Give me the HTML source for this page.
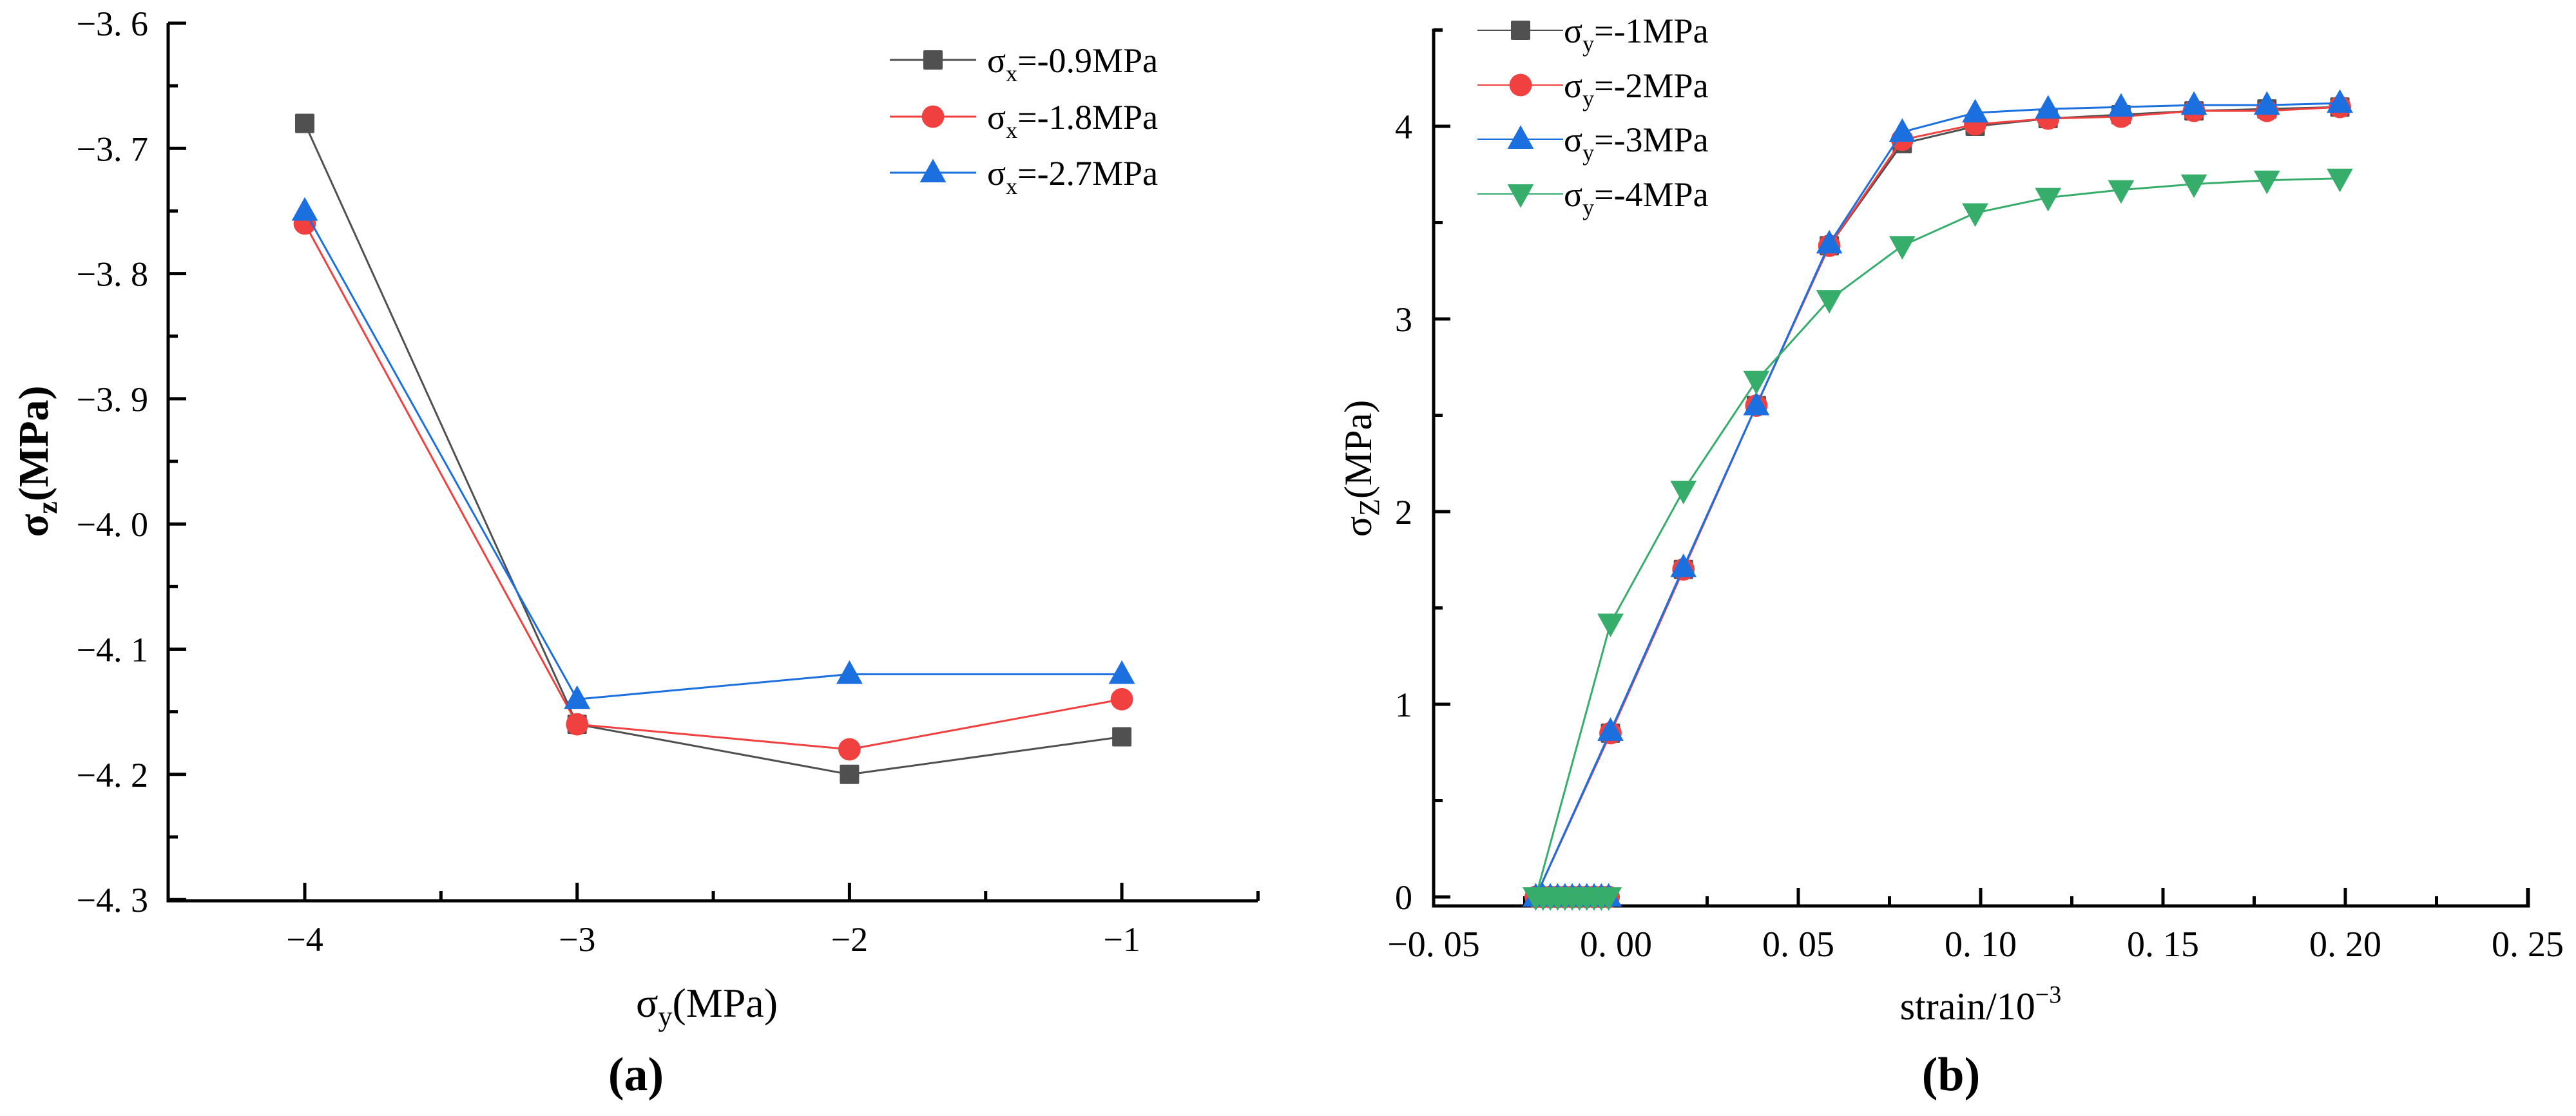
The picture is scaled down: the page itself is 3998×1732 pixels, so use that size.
<!DOCTYPE html>
<html><head><meta charset="utf-8"><title>Stress charts</title>
<style>
html,body{margin:0;padding:0;background:#fff;}
svg{display:block;font-family:"Liberation Serif","DejaVu Serif",serif;}
</style></head>
<body>
<svg id="fig" width="3998" height="1732" viewBox="0 0 3998 1732" xmlns="http://www.w3.org/2000/svg"></svg>
<script>
// ---------- Panel (a) data ----------
const aCategories = [-4, -3, -2, -1];
const aSeries1 = [-3.68, -4.16, -4.20, -4.17];   // σx=-0.9MPa
const aSeries2 = [-3.76, -4.16, -4.18, -4.14];   // σx=-1.8MPa
const aSeries3 = [-3.75, -4.14, -4.12, -4.12];   // σx=-2.7MPa
const aSeriesNames = ["-0.9MPa", "-1.8MPa", "-2.7MPa"];
const aYTicks = [-3.6, -3.7, -3.8, -3.9, -4.0, -4.1, -4.2, -4.3];
const aYTickLabels = ["−3. 6", "−3. 7", "−3. 8", "−3. 9", "−4. 0", "−4. 1", "−4. 2", "−4. 3"];
const aXTickLabels = ["−4", "−3", "−2", "−1"];

// ---------- Panel (b) data ----------
const bZeroX = [-0.002, -0.004, -0.006, -0.008, -0.010, -0.012, -0.014, -0.016, -0.018, -0.020, -0.022];
const bStrain = [-0.0015, 0.0185, 0.0385, 0.0585, 0.0785, 0.0985, 0.1185, 0.1385, 0.1585, 0.1785, 0.1985];
const bSeries1 = [0.85, 1.70, 2.55, 3.38, 3.91, 4.00, 4.04, 4.06, 4.08, 4.09, 4.10]; // σy=-1
const bSeries2 = [0.85, 1.70, 2.55, 3.38, 3.93, 4.01, 4.04, 4.05, 4.08, 4.08, 4.10]; // σy=-2
const bSeries3 = [0.86, 1.71, 2.55, 3.39, 3.97, 4.07, 4.09, 4.10, 4.11, 4.11, 4.12]; // σy=-3
const bSeries4 = [1.42, 2.11, 2.68, 3.10, 3.38, 3.55, 3.63, 3.67, 3.70, 3.72, 3.73]; // σy=-4
const bSeriesNames = ["-1MPa", "-2MPa", "-3MPa", "-4MPa"];
const bXTicks = [-0.05, 0, 0.05, 0.10, 0.15, 0.20, 0.25];
const bXTickLabels = ["−0. 05", "0. 00", "0. 05", "0. 10", "0. 15", "0. 20", "0. 25"];
const bYTicks = [0, 1, 2, 3, 4];
const bYTickLabels = ["0", "1", "2", "3", "4"];

const NS = "http://www.w3.org/2000/svg";
const svg = document.getElementById("fig");
function mk(tag, attrs, parent) {
  const e = document.createElementNS(NS, tag);
  for (const k in attrs) e.setAttribute(k, attrs[k]);
  (parent || svg).appendChild(e);
  return e;
}
const COLORS = ["#505050", "#f04040", "#1b6fdf", "#37ad6b"];

function marker(g, type, cx, cy, color, s) {
  let e;
  if (type === 0) e = mk("rect", {x: cx - s/2, y: cy - s/2, width: s, height: s, rx: 2, fill: color}, g);
  else if (type === 1) e = mk("circle", {cx: cx, cy: cy, r: s*0.58, fill: color}, g);
  else if (type === 2) e = mk("polygon", {points: `${cx},${cy - s*0.72} ${cx - s*0.68},${cy + s*0.5} ${cx + s*0.68},${cy + s*0.5}`, fill: color}, g);
  else e = mk("polygon", {points: `${cx},${cy + s*0.72} ${cx - s*0.68},${cy - s*0.5} ${cx + s*0.68},${cy - s*0.5}`, fill: color}, g);
  
  
  return e;
}

// ================= Panel (a) =================
const aL = 261, aR = 1952, aT = 36, aB = 1398;
const ax = v => 473 + (v - (-4)) * 422.7;
const ay = v => 36 + (-3.6 - v) / 0.1 * 194.3;

const gA = mk("g", {});



const aAxes = mk("path", {d: `M${aL},${aT} V${aB} H${aR}`, stroke: "#000", "stroke-width": 5, fill: "none"}, gA);


aYTicks.forEach((v, i) => {
  const y = ay(v);
  const t = mk("line", {x1: aL, x2: aL + 28, y1: y, y2: y, stroke: "#000", "stroke-width": 5}, gA);
  
  
  const lb = mk("text", {x: 230, y: y + 19, "text-anchor": "end", "font-size": 54}, gA);
  lb.textContent = aYTickLabels[i];
  
  
  if (i < aYTicks.length - 1) {
    const ym = ay(v - 0.05);
    const m = mk("line", {x1: aL, x2: aL + 15, y1: ym, y2: ym, stroke: "#000", "stroke-width": 5}, gA);
    
    
  }
});
aCategories.forEach((v, i) => {
  const x = ax(v);
  const t = mk("line", {x1: x, x2: x, y1: aB, y2: aB - 28, stroke: "#000", "stroke-width": 5}, gA);
  
  
  const lb = mk("text", {x: x, y: 1476, "text-anchor": "middle", "font-size": 54}, gA);
  lb.textContent = aXTickLabels[i];
  
  
});
[-3.5, -2.5, -1.5, -0.5].forEach(v => {
  const x = ax(v);
  const m = mk("line", {x1: x, x2: x, y1: aB, y2: aB - 15, stroke: "#000", "stroke-width": 5}, gA);
  
  
});
const aYT = mk("text", {x: 0, y: 0, transform: "translate(74,716) rotate(-90)", "text-anchor": "middle", "font-size": 66, "font-weight": "bold"}, gA);
aYT.innerHTML = 'σ<tspan font-size="44" dy="14">z</tspan><tspan dy="-14">(MPa)</tspan>';


const aXT = mk("text", {x: 1097, y: 1578, "text-anchor": "middle", "font-size": 64}, gA);
aXT.innerHTML = 'σ<tspan font-size="44" dy="14">y</tspan><tspan dy="-14">(MPa)</tspan>';


const aCap = mk("text", {x: 987, y: 1692, "text-anchor": "middle", "font-size": 74, "font-weight": "bold"}, gA);
aCap.textContent = "(a)";



[aSeries1, aSeries2, aSeries3].forEach((ser, si) => {
  const pts = ser.map((v, i) => `${ax(aCategories[i])},${ay(v)}`).join(" ");
  const pl = mk("polyline", {points: pts, fill: "none", stroke: COLORS[si], "stroke-width": 3}, gA);
  
  
  ser.forEach((v, i) => marker(gA, si, ax(aCategories[i]), ay(v), COLORS[si], 30));
});
const aLegY = [93, 181, 268];
aSeriesNames.forEach((nm, i) => {
  const lg = mk("g", {}, gA);
  
  
  mk("line", {x1: 1381, x2: 1515, y1: aLegY[i], y2: aLegY[i], stroke: COLORS[i], "stroke-width": 3}, lg);
  marker(lg, i, 1448, aLegY[i], COLORS[i], 30);
  const t = mk("text", {x: 1532, y: aLegY[i] + 19, "font-size": 54}, lg);
  t.innerHTML = 'σ<tspan font-size="36" dy="14">x</tspan><tspan dy="-14">=' + nm + '</tspan>';
});

// ================= Panel (b) =================
const bL = 2225, bR = 3924, bT = 47, bB = 1406;
const bx = v => 2225 + (v + 0.05) / 0.05 * 283;
const by = v => 1392 - v * 299;

const gB = mk("g", {});



const bAxes = mk("path", {d: `M${bL + 14},${bT} H${bL} V${bB} H${bR} V${bB - 28}`, stroke: "#000", "stroke-width": 5, fill: "none"}, gB);


bYTicks.forEach((v, i) => {
  const y = by(v);
  const t = mk("line", {x1: bL, x2: bL + 26, y1: y, y2: y, stroke: "#000", "stroke-width": 5}, gB);
  
  
  const lb = mk("text", {x: 2192, y: y + 19, "text-anchor": "end", "font-size": 54}, gB);
  lb.textContent = bYTickLabels[i];
  
  
  const ym = by(v + 0.5);
  const m = mk("line", {x1: bL, x2: bL + 14, y1: ym, y2: ym, stroke: "#000", "stroke-width": 5}, gB);
  
  
});
bXTicks.forEach((v, i) => {
  const x = bx(v);
  if (i > 0) {
    const t = mk("line", {x1: x, x2: x, y1: bB, y2: bB - 28, stroke: "#000", "stroke-width": 5}, gB);
    
    
  }
  const lb = mk("text", {x: x, y: 1484, "text-anchor": "middle", "font-size": 56}, gB);
  lb.textContent = bXTickLabels[i];
  
  
  if (i < bXTicks.length - 1) {
    const xm = bx(v + 0.025);
    const m = mk("line", {x1: xm, x2: xm, y1: bB, y2: bB - 15, stroke: "#000", "stroke-width": 5}, gB);
    
    
  }
});
const bYT = mk("text", {x: 0, y: 0, transform: "translate(2128,727) rotate(-90)", "text-anchor": "middle", "font-size": 60}, gB);
bYT.innerHTML = 'σ<tspan font-size="44" dy="12">Z</tspan><tspan dy="-12">(MPa)</tspan>';


const bXT = mk("text", {x: 3074, y: 1582, "text-anchor": "middle", "font-size": 60}, gB);
bXT.innerHTML = 'strain/10<tspan font-size="38" dy="-26">−3</tspan>';


const bCap = mk("text", {x: 3028, y: 1692, "text-anchor": "middle", "font-size": 74, "font-weight": "bold"}, gB);
bCap.textContent = "(b)";



[bSeries1, bSeries2, bSeries3, bSeries4].forEach((ser, si) => {
  const xs = bZeroX.concat(bStrain);
  const ys = bZeroX.map(() => 0).concat(ser);
  const pts = xs.map((x, i) => `${bx(x)},${by(ys[i])}`).join(" ");
  const pl = mk("polyline", {points: pts, fill: "none", stroke: COLORS[si], "stroke-width": 3}, gB);
  
  
  xs.forEach((x, i) => marker(gB, si, bx(x), by(ys[i]), COLORS[si], 30));
});
const bLegY = [47, 132, 216, 301];
bSeriesNames.forEach((nm, i) => {
  const lg = mk("g", {}, gB);
  
  
  mk("line", {x1: 2293, x2: 2426, y1: bLegY[i], y2: bLegY[i], stroke: COLORS[i], "stroke-width": 2}, lg);
  marker(lg, i, 2360, bLegY[i], COLORS[i], 30);
  const t = mk("text", {x: 2427, y: bLegY[i] + 19, "font-size": 54}, lg);
  t.innerHTML = 'σ<tspan font-size="36" dy="14">y</tspan><tspan dy="-14">=' + nm + '</tspan>';
});
</script>
</body></html>
